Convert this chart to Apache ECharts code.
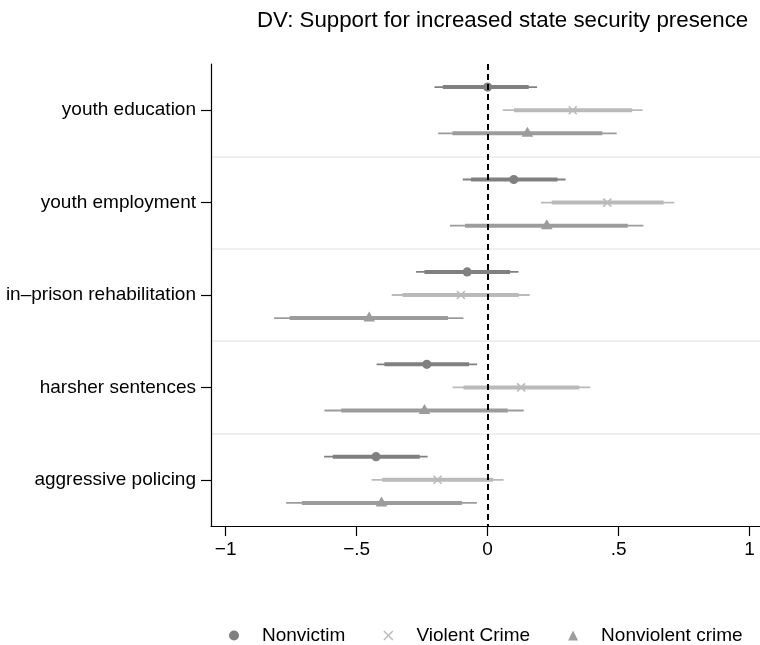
<!DOCTYPE html>
<html>
<head>
<meta charset="utf-8">
<script src="https://cdn.jsdelivr.net/npm/echarts@6/dist/echarts.min.js"></script>
<style>
html,body{margin:0;padding:0;background:#fff;}
#main{width:760px;height:645px;}
</style>
</head>
<body>
<div id="main"></div>
<script>
// Categories (top to bottom)
const categories = ['youth education', 'youth employment', 'in\u2013prison rehabilitation', 'harsher sentences', 'aggressive policing'];
// Each row: [estimate, lo95, lo90, hi90, hi95]
const nonvictim = [
  [0.00, -0.203, -0.171, 0.157, 0.189],
  [0.100, -0.095, -0.063, 0.267, 0.298],
  [-0.078, -0.273, -0.241, 0.086, 0.118],
  [-0.232, -0.424, -0.394, -0.071, -0.040],
  [-0.426, -0.624, -0.591, -0.259, -0.229]
];
const violentCrime = [
  [0.325, 0.058, 0.101, 0.552, 0.592],
  [0.457, 0.204, 0.245, 0.672, 0.713],
  [-0.102, -0.366, -0.325, 0.119, 0.161],
  [0.128, -0.134, -0.092, 0.350, 0.392],
  [-0.191, -0.443, -0.402, 0.021, 0.061]
];
const nonviolentCrime = [
  [0.152, -0.189, -0.134, 0.438, 0.493],
  [0.226, -0.144, -0.086, 0.535, 0.595],
  [-0.452, -0.815, -0.756, -0.151, -0.092],
  [-0.241, -0.623, -0.559, 0.077, 0.138],
  [-0.405, -0.769, -0.709, -0.098, -0.041]
];
const seriesNames = ['Nonvictim', 'Violent Crime', 'Nonviolent crime'];
const xTicks = [-1, -0.5, 0, 0.5, 1];
const xTickLabels = ['\u22121', '\u2212.5', '0', '.5', '1'];

const colors = ['#808080', '#bababa', '#9c9c9c'];
const offsets = [-0.25, 0, 0.25];
const shapes = ['circle', 'cross', 'triangle'];
const FONT = '"Liberation Sans", Arial, Helvetica, sans-serif';
const crossPath = 'path://M0,1L1,0L5,4L9,0L10,1L6,5L10,9L9,10L5,6L1,10L0,9L4,5Z';

function toData(arr) {
  return arr.map((r, i) => [i, r[0], r[1], r[2], r[3], r[4]]);
}

function makeRender(k) {
  const color = colors[k];
  const off = offsets[k];
  const shape = shapes[k];
  return function (params, api) {
    const cat = api.value(0);
    const band = api.size([0, 1])[1];
    const y = api.coord([0, cat])[1] + off * band;
    const X = v => api.coord([v, cat])[0];
    const est = X(api.value(1));
    const children = [
      {type: 'line', shape: {x1: X(api.value(2)), y1: y, x2: X(api.value(5)), y2: y},
       style: {stroke: color, lineWidth: 1.8}},
      {type: 'line', shape: {x1: X(api.value(3)), y1: y, x2: X(api.value(4)), y2: y},
       style: {stroke: color, lineWidth: 4}}
    ];
    if (shape === 'circle') {
      children.push({type: 'circle', shape: {cx: est, cy: y, r: 4.6}, style: {fill: color}});
    } else if (shape === 'triangle') {
      children.push({type: 'polygon', shape: {points: [[est, y - 6.5], [est - 5.8, y + 3.5], [est + 5.8, y + 3.5]]}, style: {fill: color}});
    } else {
      const s = 4;
      children.push({type: 'line', shape: {x1: est - s, y1: y - s, x2: est + s, y2: y + s}, style: {stroke: color, lineWidth: 1.6}});
      children.push({type: 'line', shape: {x1: est - s, y1: y + s, x2: est + s, y2: y - s}, style: {stroke: color, lineWidth: 1.6}});
    }
    return {type: 'group', children: children};
  };
}

const allSeries = [nonvictim, violentCrime, nonviolentCrime].map((arr, k) => ({
  type: 'custom',
  name: seriesNames[k],
  renderItem: makeRender(k),
  data: toData(arr),
  encode: {y: 0, x: [1, 2, 3, 4, 5]},
  itemStyle: {color: colors[k]},
  silent: true,
  z: 3
}));
allSeries[0].markLine = {
  silent: true,
  symbol: 'none',
  label: {show: false},
  lineStyle: {color: '#000', type: [6, 4], width: 2},
  data: [{xAxis: 0}],
  z: 10
};

const chart = echarts.init(document.getElementById('main'), null, {renderer: 'canvas'});
chart.setOption({
  animation: false,
  backgroundColor: '#fff',
  textStyle: {fontFamily: FONT},
  title: {
    text: 'DV: Support for increased state security presence',
    left: 252, top: 5,
    textStyle: {fontFamily: FONT, fontSize: 22.3, fontWeight: 'normal', color: '#000'}
  },
  legend: {
    left: 229, top: 626,
    itemWidth: 10, itemHeight: 10, itemGap: 38,
    padding: 0,
    textStyle: {fontFamily: FONT, fontSize: 19, color: '#000', padding: [0, 0, 0, 18]},
    data: [
      {name: seriesNames[0], icon: 'circle'},
      {name: seriesNames[1], icon: crossPath},
      {name: seriesNames[2], icon: 'triangle'}
    ]
  },
  grid: {left: 211, right: 0, top: 64, bottom: 119, containLabel: false, outerBoundsMode: 'none'},
  xAxis: {
    type: 'value',
    min: -1.056, max: 1.04,
    axisLine: {show: true, onZero: false, lineStyle: {color: '#000', width: 1.2}},
    axisTick: {show: true, length: 10, customValues: xTicks, lineStyle: {color: '#000', width: 1.2}},
    axisLabel: {
      customValues: xTicks,
      margin: 14,
      fontFamily: FONT, fontSize: 19, color: '#000',
      formatter: v => { const i = xTicks.findIndex(t => Math.abs(t - v) < 1e-9); return i >= 0 ? xTickLabels[i] : ''; }
    },
    splitLine: {show: false}
  },
  yAxis: {
    type: 'category',
    data: categories,
    inverse: true,
    boundaryGap: true,
    axisLine: {show: true, onZero: false, lineStyle: {color: '#000', width: 1.2}},
    axisTick: {show: true, alignWithLabel: true, length: 10, lineStyle: {color: '#000', width: 1.2}},
    axisLabel: {margin: 15, fontFamily: FONT, fontSize: 19, color: '#000'},
    splitLine: {show: true, showMinLine: false, showMaxLine: false, lineStyle: {color: '#eaeaea', width: 1.5}}
  },
  series: allSeries
});
</script>
</body>
</html>
